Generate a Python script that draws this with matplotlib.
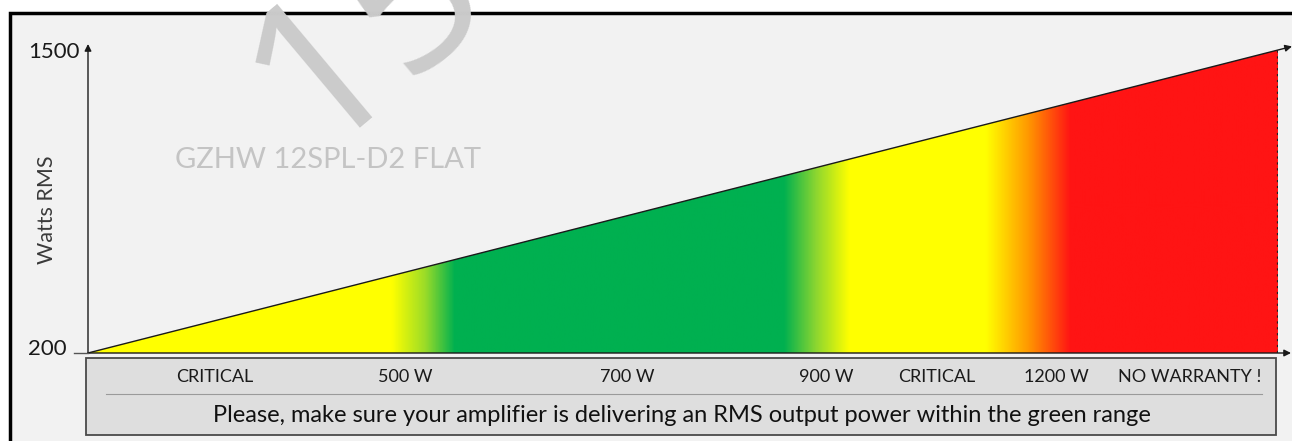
import numpy as np
import matplotlib
matplotlib.use("Agg")
import matplotlib.pyplot as plt
from matplotlib.colors import LinearSegmentedColormap
from matplotlib.patches import Rectangle, Polygon

# ---------------- data ----------------
watts_min = 200
watts_max = 1500
y_tick_labels = ["200", "1500"]
y_label = "Watts RMS"
zone_labels = ["CRITICAL", "500 W", "700 W", "900 W", "CRITICAL", "1200 W", "NO WARRANTY !"]
note_text = "Please, make sure your amplifier is delivering an RMS output power within the green range"
model_text = "GZHW 12SPL-D2 FLAT"
watermark_text = "15"
# colour zones along the wedge (fraction of width, colour)
zone_stops = [0.0, 0.255, 0.283, 0.308, 0.585, 0.612, 0.64, 0.755, 0.79, 0.826, 1.0]
zone_colors = ["#ffff00", "#ffff00", "#9bdc28", "#00b050", "#00b050", "#8cd630",
               "#ffff00", "#ffff00", "#ff9a00", "#ff1414", "#ff1414"]

# ---------------- layout ----------------
W, H = 1292, 441
fig = plt.figure(figsize=(W / 100, H / 100), dpi=100)
fig.patch.set_facecolor("white")
plt.rcParams["font.family"] = ["Lato", "DejaVu Sans"]

def fx(px):
    return px / W

def fy(py):
    return (H - py) / H

# background panel with black frame
fig.patches.append(Rectangle((fx(10), -0.05), fx(1400 - 10), fy(13) + 0.05,
                             transform=fig.transFigure, facecolor="#f2f2f2",
                             edgecolor="black", lw=2.5, zorder=-2))

# watermark
fig.text(fx(312), fy(152), watermark_text, fontsize=150, color="#cbcbcb",
         rotation=40, rotation_mode="anchor", ha="left", va="baseline",
         family=["Open Sans", "DejaVu Sans"], zorder=-1)
fig.text(fx(175), fy(160), model_text, fontsize=21, color="#c4c4c4",
         ha="left", va="center", zorder=-1)

# main axes
x0, x1 = 88, 1278
ytop = 50
ybot = 353
ax = fig.add_axes([fx(x0), fy(ybot), fx(x1 - x0), (ybot - ytop) / H])
ax.set_xlim(0, 1)
ax.set_ylim(watts_min, watts_max)
ax.axis("off")
ax.patch.set_alpha(0)

wpp = (watts_max - watts_min) / (ybot - ytop)  # watts per pixel
xpp = 1.0 / (x1 - x0)

cmap = LinearSegmentedColormap.from_list("zones", list(zip(zone_stops, zone_colors)), N=1024)
grad = np.linspace(0, 1, 2400)[None, :]
img = ax.imshow(grad, cmap=cmap, extent=(0, 1, watts_min, watts_max),
                aspect="auto", interpolation="antialiased", zorder=2)
wedge = Polygon([(0, watts_min), (1, watts_max), (1, watts_min)],
                closed=True, transform=ax.transData, facecolor="none", edgecolor="none")
ax.add_patch(wedge)
img.set_clip_path(wedge)

# right dotted edge
ax.plot([1, 1], [watts_min, watts_max], color="#222222", ls=":", lw=1.6, zorder=3)

# hypotenuse arrow
tip_x = (1292 - x0) * xpp
tip_y = watts_min + (watts_max - watts_min) * tip_x
ax.annotate("", xy=(tip_x, tip_y), xytext=(0, watts_min),
            arrowprops=dict(arrowstyle="-|>", color="#1a1a1a", lw=1.0,
                            mutation_scale=10, shrinkA=0, shrinkB=0),
            annotation_clip=False, zorder=4)
# x axis arrow
ax.annotate("", xy=((1291 - x0) * xpp, watts_min), xytext=(0, watts_min),
            arrowprops=dict(arrowstyle="-|>", color="#1a1a1a", lw=1.0,
                            mutation_scale=10, shrinkA=0, shrinkB=0),
            annotation_clip=False, zorder=4)
# y axis arrow
ax.annotate("", xy=(0, watts_max + (ytop - 44) * wpp), xytext=(0, watts_min),
            arrowprops=dict(arrowstyle="-|>", color="#1a1a1a", lw=1.0,
                            mutation_scale=10, shrinkA=0, shrinkB=0),
            annotation_clip=False, zorder=4)
# tick at 200
ax.plot([-14 * xpp, 0], [watts_min, watts_min], color="#555555", lw=1, clip_on=False, zorder=4)

ax.text(-21 * xpp, watts_min + 4 * wpp, y_tick_labels[0], ha="right", va="center",
        fontsize=16, color="#1a1a1a", clip_on=False)
ax.text(-8 * xpp, watts_max - 2 * wpp, y_tick_labels[1], ha="right", va="center",
        fontsize=16, color="#1a1a1a", clip_on=False)
fig.text(fx(47), fy(210), y_label, rotation=90, ha="center", va="center",
         fontsize=15.5, color="#3a3a3a")

# bottom legend box
fig.patches.append(Rectangle((fx(86), fy(435)), fx(1276 - 86), (435 - 358) / H,
                             transform=fig.transFigure, facecolor="#dedede",
                             edgecolor="#4a4a4a", lw=1.3, zorder=2))
fig.lines.append(plt.Line2D([fx(106), fx(1262)], [fy(394), fy(394)],
                            transform=fig.transFigure, color="#9a9a9a", lw=0.8, zorder=3))
label_px = [215, 405, 627, 826, 937, 1056, 1190]
for name, px in zip(zone_labels, label_px):
    fig.text(fx(px), fy(377), name, ha="center", va="center", fontsize=13,
             color="#1a1a1a", zorder=4)
fig.text(fx(682), fy(415), note_text, ha="center", va="center", fontsize=17,
         color="#111111", zorder=4)

fig.savefig("out.png", dpi=100, facecolor=fig.get_facecolor())
